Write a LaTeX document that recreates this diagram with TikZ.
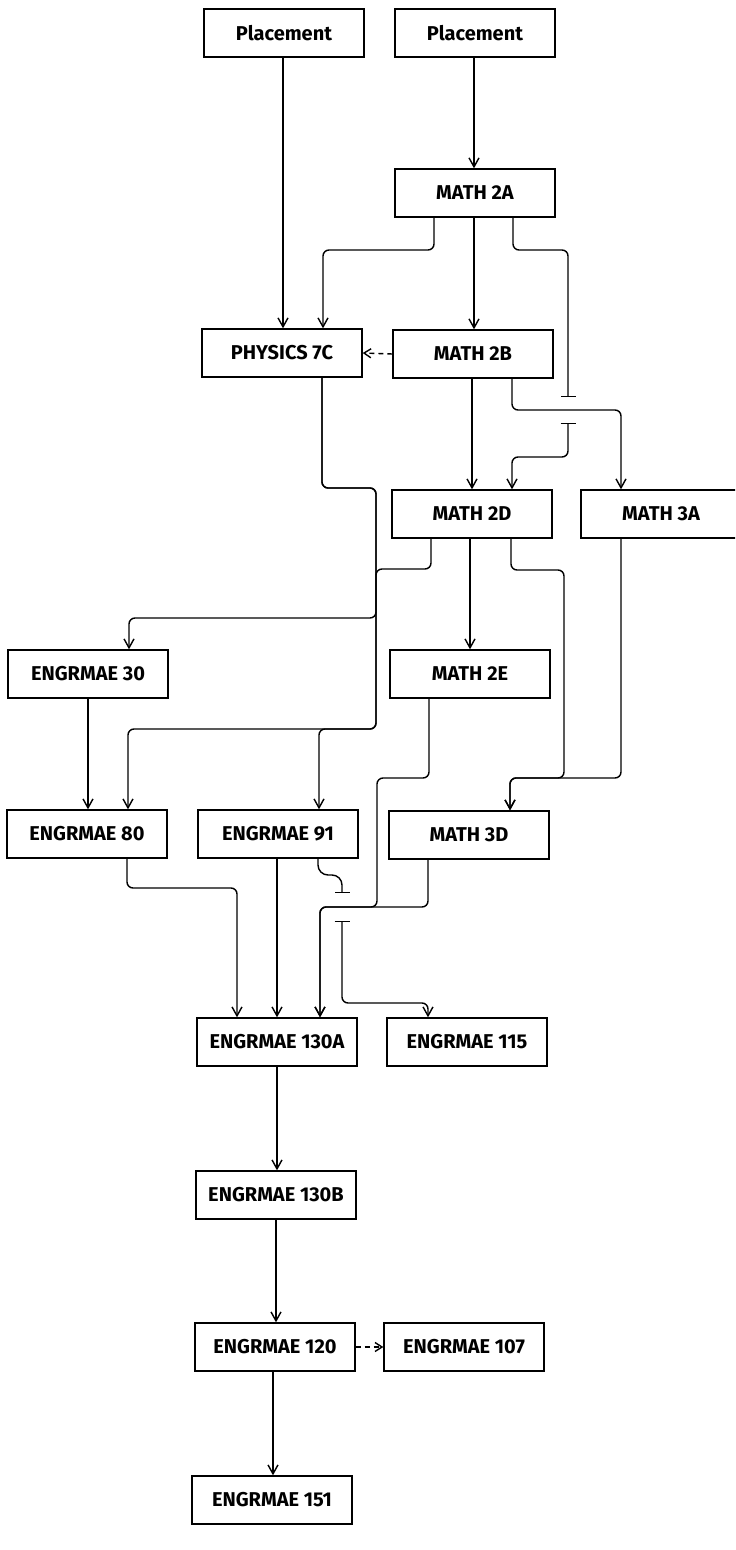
\documentclass[tikz,border=0pt]{standalone}
\usepackage{fontspec}
\setmainfont{Fira Sans}
\usetikzlibrary{arrows.meta}
\begin{document}
\begin{tikzpicture}[x=0.5pt,y=-0.5pt,
  box/.style={draw,line width=0.7pt,minimum width=80pt,minimum height=24pt,inner sep=0pt,font=\fontsize{10}{12}\selectfont\bfseries},
  conn/.style={line width=0.7pt,rounded corners=3pt},
  arr/.style={conn,-{Straight Barb[length=4.5pt,width=5pt]}},
  darr/.style={line width=0.7pt,dash pattern=on 2.5pt off 2pt,-{Straight Barb[length=3.5pt,width=4.5pt]}},
  barend/.style={conn,-{Bar[width=7.5pt]}},
  barstart/.style={conn,{Bar[width=7.5pt]}-{Straight Barb[length=4.5pt,width=5pt]}},
]
\useasboundingbox (0,0) rectangle (735,1550);
\clip (0,0) rectangle (735,1550);

% nodes
\node[box] (pl1)   at (284,33)   {Placement};
\node[box] (pl2)   at (475,33)   {Placement};
\node[box] (m2a)   at (475,193)  {MATH 2A};
\node[box] (phys)  at (282,353)  {PHYSICS 7C};
\node[box] (m2b)   at (473,354)  {MATH 2B};
\node[box] (m2d)   at (472,514)  {MATH 2D};
\node[box] (m3a)   at (661,514)  {MATH 3A};
\node[box] (e30)   at (88,674)   {ENGRMAE 30};
\node[box] (m2e)   at (470,674)  {MATH 2E};
\node[box] (e80)   at (87,834)   {ENGRMAE 80};
\node[box] (e91)   at (278,834)  {ENGRMAE 91};
\node[box] (m3d)   at (469,835)  {MATH 3D};
\node[box] (e130a) at (277,1042) {ENGRMAE 130A};
\node[box] (e115)  at (467,1042) {ENGRMAE 115};
\node[box] (e130b) at (276,1195) {ENGRMAE 130B};
\node[box] (e120)  at (275,1347) {ENGRMAE 120};
\node[box] (e107)  at (464,1347) {ENGRMAE 107};
\node[box] (e151)  at (272,1500) {ENGRMAE 151};

% jump coordinates
\coordinate (j1a) at (568,397);
\coordinate (j1b) at (568,423);
\coordinate (j2a) at (342,893);
\coordinate (j2b) at (342,921);

% connectors
\draw[arr] (pl1.south -| 283,0) -- (phys.north -| 283,0);
\draw[arr] (pl2.south -| 474,0) -- (m2a.north -| 474,0);
\draw[arr] (m2a.south -| 434,0) -- (434,250) -- (323,250) -- (phys.north -| 323,0);
\draw[arr] (m2a.south -| 474,0) -- (m2b.north -| 474,0);
\draw[barend] (m2a.south -| 513,0) -- (513,250) -- (568,250) -- (j1a);
\draw[barstart] (j1b) -- (568,457) -- (512,457) -- (m2d.north -| 512,0);
\draw[arr] (m2b.south -| 472,0) -- (m2d.north -| 472,0);
\draw[arr] (m2b.south -| 512,0) -- (512,410) -- (621,410) -- (m3a.north -| 621,0);
\draw[darr] (m2b.west) -- (phys.east);
\draw[arr] (phys.south -| 322,0) -- (322,488) -- (376,488) -- (376,729) -- (128,729) -- (e80.north -| 128,0);
\draw[arr] (phys.south -| 322,0) -- (322,488) -- (376,488) -- (376,729) -- (319,729) -- (e91.north -| 319,0);
\draw[arr] (m2d.south -| 431,0) -- (431,569) -- (376,569) -- (376,618) -- (129,618) -- (e30.north -| 129,0);
\draw[arr] (m2d.south -| 470,0) -- (m2e.north -| 470,0);
\draw[arr] (m2d.south -| 511,0) -- (511,570) -- (564,570) -- (564,778) -- (510,778) -- (m3d.north -| 510,0);
\draw[arr] (m3a.south -| 621,0) -- (621,778) -- (510,778) -- (m3d.north -| 510,0);
\draw[arr] (e30.south -| 88,0) -- (e80.north -| 88,0);
\draw[arr] (m2e.south -| 429,0) -- (429,778) -- (377,778) -- (377,907) -- (320,907) -- (e130a.north -| 320,0);
\draw[arr] (m3d.south -| 428,0) -- (428,907) -- (320,907) -- (e130a.north -| 320,0);
\draw[barend,rounded corners=5pt] (e91.south -| 318,0) -- (318,875) -- (342,875) -- (j2a);
\draw[barstart] (j2b) -- (342,1003) -- (428,1003) -- (e115.north -| 428,0);
\draw[arr] (e91.south -| 277,0) -- (e130a.north -| 277,0);
\draw[arr] (e80.south -| 127,0) -- (127,888) -- (237,888) -- (e130a.north -| 237,0);
\draw[arr] (e130a.south -| 277,0) -- (e130b.north -| 277,0);
\draw[arr] (e130b.south -| 276,0) -- (e120.north -| 276,0);
\draw[darr] (e120.east) -- (e107.west);
\draw[arr] (e120.south -| 273,0) -- (e151.north -| 273,0);
\end{tikzpicture}
\end{document}
